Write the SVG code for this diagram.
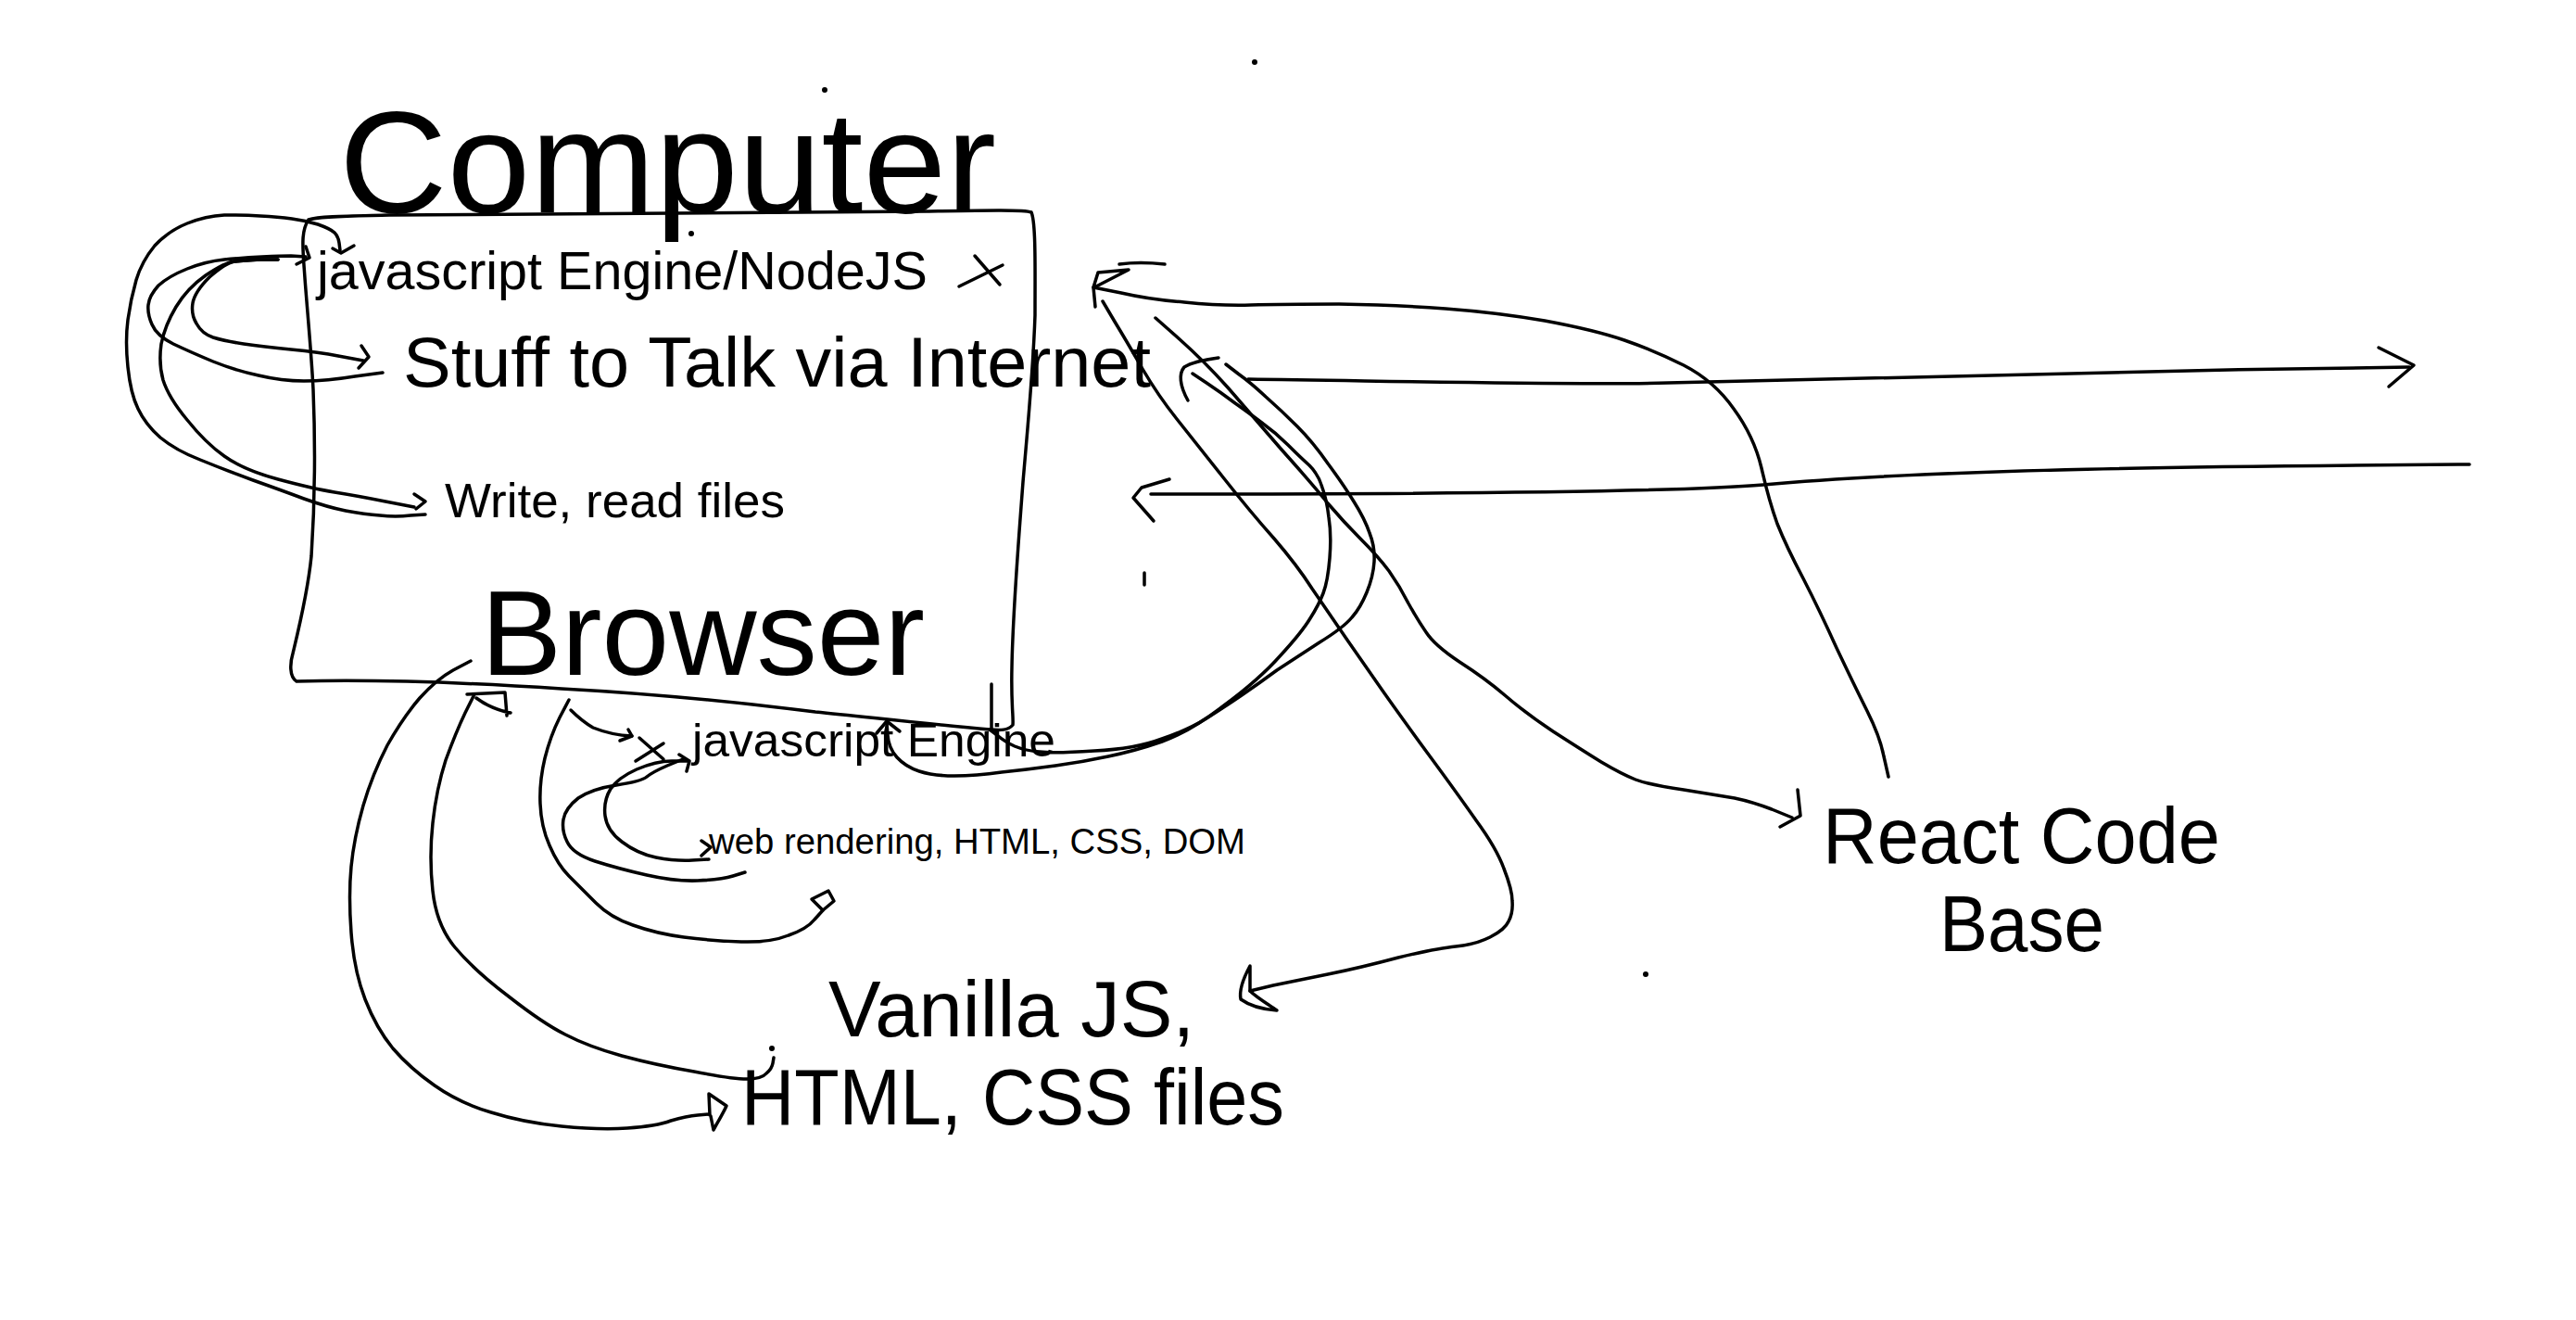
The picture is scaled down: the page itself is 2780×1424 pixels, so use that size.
<svg xmlns="http://www.w3.org/2000/svg" width="2780" height="1424" viewBox="0 0 2780 1424">
<style>
.t{font-family:"Liberation Sans",Arial,sans-serif;fill:#000}
.s{fill:none;stroke:#000;stroke-width:3.5;stroke-linecap:round;stroke-linejoin:round}
.d{fill:#000}
</style>
<rect width="2780" height="1424" fill="#fff"/>
<g id="computer-box">
<path class="s" d="M333,237 C345,233 380,233 420,232 C600,230 800,228 1000,228 C1060,227 1105,226 1113,229 C1118,240 1117,290 1117,340 C1115,400 1110,450 1104,520 C1098,600 1093,660 1092,720 C1091,760 1094,775 1093,782 C1088,788 1080,788 1068,787 C1000,781 940,774 880,768 C800,758 700,748 606,743 C500,736 400,733 320,735 C312,730 313,715 316,705 C322,680 332,640 336,600 C340,540 340,470 338,420 C336,380 332,340 329,300 C327,270 324,250 333,237"/>
</g>
<g id="n-computer"><text class="t" x="366" y="229" font-size="155" textLength="709" lengthAdjust="spacingAndGlyphs">Computer</text></g>
<g id="n-jsnode"><text class="t" x="342" y="312" font-size="58" textLength="659" lengthAdjust="spacingAndGlyphs">javascript Engine/NodeJS</text>
<path class="s" d="M1035,309 L1082,286 M1052,276 L1079,307"/></g>
<g id="n-internet"><text class="t" x="435" y="417" font-size="76" textLength="807" lengthAdjust="spacingAndGlyphs">Stuff to Talk via Internet</text></g>
<g id="n-files"><text class="t" x="480" y="558" font-size="52" textLength="367" lengthAdjust="spacingAndGlyphs">Write, read files</text></g>
<g id="n-browser"><text class="t" x="519" y="728" font-size="130" textLength="479" lengthAdjust="spacingAndGlyphs">Browser</text></g>
<g id="n-jsengine"><text class="t" x="747" y="816" font-size="50" textLength="392" lengthAdjust="spacingAndGlyphs">javascript Engine</text>
<path class="s" d="M690,796 L716,819 M686,821 L716,802"/></g>
<g id="n-render"><text class="t" x="765" y="921" font-size="38" textLength="579" lengthAdjust="spacingAndGlyphs">web rendering, HTML, CSS, DOM</text></g>
<g id="n-vanilla"><text class="t" x="894" y="1118" font-size="85" textLength="395" lengthAdjust="spacingAndGlyphs">Vanilla JS,</text>
<text class="t" x="800" y="1213" font-size="85" textLength="586" lengthAdjust="spacingAndGlyphs">HTML, CSS files</text></g>
<g id="n-react"><text class="t" x="1967" y="931" font-size="86" textLength="429" lengthAdjust="spacingAndGlyphs">React Code</text>
<text class="t" x="2093" y="1026" font-size="86" textLength="178" lengthAdjust="spacingAndGlyphs">Base</text></g>
<g id="connectors">
<!-- left loops -->
<path class="s" d="M459,555 L443,556 Q427,558 410,556 Q394,555 373,551 Q353,547 328,538 Q304,529 273,518 Q243,507 216,496 Q190,486 173,472 Q157,458 149,441 Q141,425 138,396 Q135,368 138,345 Q141,323 147,302 Q153,282 167,265 Q182,249 202,241 Q222,233 242,232 Q263,232 281,233 Q300,234 315,236 Q330,238 343,242 Q357,247 361,251 Q365,255 366,262 L367,270"/>
<path class="s" d="M359,268 L368,273 L382,265"/>
<path class="s" d="M300,280 L281,280 Q263,281 253,282 Q243,283 222,297 Q202,311 190,331 Q178,351 174,371 Q171,392 176,410 Q182,429 202,453 Q222,478 242,492 Q263,507 300,517 Q337,527 361,531 Q386,535 416,541 L447,547"/>
<path class="s" d="M447,533 L459,541 L449,549"/>
<path class="s" d="M300,280 L281,280 Q263,281 253,282 Q243,284 226,299 Q210,315 208,327 Q206,339 212,349 Q218,360 230,364 Q243,368 263,371 Q284,374 314,377 Q345,380 365,384 L392,389"/>
<path class="s" d="M390,373 L398,385 L387,397"/>
<path class="s" d="M413,402 L383,406 Q353,411 328,411 Q304,411 279,405 Q255,400 230,390 Q206,380 187,371 Q169,362 164,350 Q159,339 160,329 Q161,319 171,308 Q182,298 202,290 Q222,282 242,280 Q263,278 283,277 Q304,276 314,276 L330,277"/>
<path class="s" d="M330,266 L334,278 L320,285"/>
<!-- browser loops -->
<path class="s" d="M508,713 L489,723 Q471,733 453,753 Q435,774 418,804 Q402,835 392,869 Q382,904 379,935 Q376,966 379,1006 Q382,1047 394,1078 Q406,1109 424,1131 Q443,1153 469,1171 Q496,1190 530,1200 Q565,1211 606,1215 Q647,1219 677,1217 Q708,1215 724,1209 Q741,1204 753,1203 L765,1202"/>
<path class="s" d="M766,1203 L765,1180 L784,1193 C780,1202 774,1211 770,1219 L767,1204"/>
<path class="s" d="M512,749 L502,769 Q492,790 481,820 Q471,851 467,888 Q463,925 467,961 Q471,998 491,1022 Q512,1047 549,1075 Q586,1104 610,1116 Q635,1129 671,1139 Q708,1149 749,1156 Q790,1164 806,1164 Q822,1164 827,1158 Q833,1153 834,1147 L835,1141"/>
<path class="s" d="M504,749 L545,747 L547,772 M514,753 Q530,765 551,769"/>
<path class="s" d="M614,755 L604,774 Q594,794 588,818 Q582,843 583,867 Q584,892 593,912 Q602,933 614,945 Q627,958 643,974 Q659,990 683,998 Q708,1007 738,1011 Q769,1015 800,1016 Q831,1017 851,1009 Q871,1002 879,992 L888,982"/>
<path class="s" d="M888,982 L876,970 L894,961 L900,972 L888,982"/>
<path class="s" d="M616,766 Q628,778 640,785 Q660,793 682,794"/>
<path class="s" d="M669,799 L682,794 L678,787"/>
<path class="s" d="M743,821 L725,821 Q708,821 687,830 Q667,839 659,851 Q651,864 653,880 Q655,896 671,908 Q688,921 708,925 Q729,929 747,928 L765,927"/>
<path class="s" d="M733,814 L744,821 L741,832 M757,907 L767,914 L757,923"/>
<path class="s" d="M804,941 L791,945 Q778,949 753,950 Q729,951 698,944 Q667,937 642,929 Q618,921 612,908 Q606,896 608,884 Q610,872 624,861 Q639,851 665,847 Q692,843 698,838 Q704,833 720,826 L737,819"/>
<!-- right side -->
<path class="s" d="M2038,838 L2033,816 Q2029,795 2015,767 Q2001,739 1982,699 Q1964,659 1946,624 Q1928,590 1918,565 Q1909,540 1901,505 Q1893,471 1871,441 Q1850,411 1817,394 Q1785,378 1753,367 Q1721,356 1667,346 Q1614,337 1560,333 Q1507,329 1445,328 Q1383,328 1350,329 Q1317,330 1278,326 Q1240,323 1210,316 L1180,310"/>
<path class="s" d="M1182,331 L1180,310 L1185,294 L1218,291 L1181,310 M1208,285 Q1230,282 1257,285"/>
<path class="s" d="M1190,325 L1203,347 Q1217,370 1233,398 Q1250,427 1270,452 Q1290,477 1320,515 Q1350,553 1375,581 Q1400,610 1416,635 Q1433,660 1453,689 Q1474,719 1492,745 Q1511,772 1541,813 Q1572,855 1593,885 Q1615,915 1623,937 Q1632,960 1632,972 Q1633,985 1628,994 Q1624,1003 1608,1011 Q1592,1019 1571,1021 Q1551,1023 1509,1033 Q1468,1044 1433,1051 Q1399,1058 1374,1063 L1349,1069"/>
<path class="s" d="M1349,1069 L1349,1042 C1342,1055 1337,1068 1339,1078 C1350,1086 1364,1089 1378,1090 C1368,1083 1356,1076 1349,1069"/>
<path class="s" d="M1247,343 L1273,366 Q1300,390 1325,418 Q1350,447 1383,485 Q1417,523 1433,543 Q1450,563 1468,581 Q1487,600 1499,616 Q1511,633 1520,651 Q1530,669 1539,682 Q1548,696 1575,714 Q1603,732 1624,750 Q1646,769 1676,789 Q1707,809 1728,822 Q1750,835 1765,841 Q1781,847 1817,852 Q1854,858 1872,861 Q1891,865 1912,873 L1934,882"/>
<path class="s" d="M1940,852 L1943,880 L1921,892"/>
<path class="s" d="M1323,393 L1336,403 Q1350,413 1366,428 Q1383,443 1400,460 Q1417,477 1433,500 Q1450,523 1461,541 Q1473,560 1478,575 Q1484,590 1483,606 Q1482,622 1475,639 Q1468,656 1459,666 Q1450,677 1424,693 Q1398,710 1378,723 Q1359,737 1340,750 Q1321,763 1302,775 Q1283,787 1254,797 Q1225,808 1181,810 Q1137,813 1122,811 Q1107,810 1095,805 Q1084,800 1076,793 L1068,787"/>
<path class="s" d="M1287,403 L1302,413 Q1317,423 1333,435 Q1350,447 1363,457 Q1377,467 1390,480 Q1403,493 1413,502 Q1423,512 1427,526 Q1432,540 1434,558 Q1437,577 1435,602 Q1433,627 1428,640 Q1423,653 1414,667 Q1405,682 1382,707 Q1359,733 1321,761 Q1283,790 1254,800 Q1225,810 1196,816 Q1168,822 1139,826 Q1110,830 1081,833 Q1053,837 1030,837 Q1007,837 992,832 Q977,827 968,817 Q959,807 958,793 L957,780"/>
<path class="s" d="M946,791 L957,778 L971,789"/>
<path class="s" d="M1315,386 C1300,388 1286,391 1278,396 C1272,403 1273,416 1282,432"/>
<path class="s" d="M1347,409 C1500,411 1700,416 1800,413 C1950,408 2300,400 2600,396"/>
<path class="s" d="M2567,375 L2605,394 L2578,417"/>
<path class="s" d="M2665,501 C2400,503 2100,505 1903,523 C1800,532 1500,533 1242,533"/>
<path class="s" d="M1262,517 L1232,526 L1223,537 L1245,562"/>
<path class="s" d="M1070,738 L1070,787 M1235,618 L1235,631"/>
</g>
<g id="marks">
<circle class="d" cx="890" cy="97" r="3"/>
<circle class="d" cx="1354" cy="67" r="3"/>
<circle class="d" cx="1776" cy="1051" r="3"/>
<circle class="d" cx="746" cy="252" r="3"/>
<circle class="d" cx="833" cy="1131" r="3"/>
<circle class="d" cx="2035" cy="900" r="3"/>
</g>
</svg>
